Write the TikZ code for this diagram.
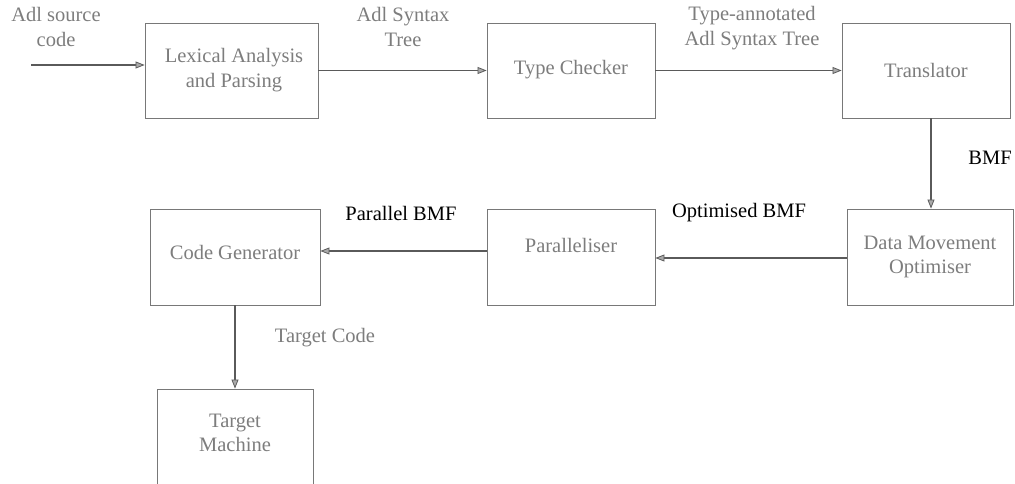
\documentclass[tikz,border=0pt]{standalone}
\usepackage{fontspec}
\setmainfont{Liberation Serif}[BoldFont={Liberation Serif Bold}]
\usetikzlibrary{arrows.meta}
\definecolor{boxgray}{RGB}{120,120,120}
\definecolor{txtgray}{RGB}{125,125,125}
\definecolor{flowgray}{RGB}{90,90,90}
\definecolor{headgray}{RGB}{170,170,170}
\begin{document}
\begin{tikzpicture}[x=1pt,y=-1pt,
  stagebox/.style={draw=boxgray, line width=0.9pt, inner sep=0pt},
  stagetext/.style={text=txtgray, font=\rmfamily\fontsize{20.5}{24.5}\selectfont, align=center, inner sep=0pt},
  graylabel/.style={text=txtgray, font=\rmfamily\fontsize{20.5}{24.5}\selectfont, align=center, inner sep=0pt},
  blacklabel/.style={text=black, font=\rmfamily\fontsize{20.5}{24.5}\selectfont, align=center, inner sep=0pt},
  flow/.style={draw=flowgray, line width=1.5pt,
    -{Triangle[length=9pt,width=7pt,open,fill=headgray,line width=0.8pt]}}]
  \useasboundingbox (0,0) rectangle (1015,483);

  % stage boxes
  \node[stagebox, minimum width=173pt, minimum height=95pt] (lex) at (231.5,70.5) {};
  \node[stagebox, minimum width=168pt, minimum height=95pt] (tc)  at (571,70.5) {};
  \node[stagebox, minimum width=168pt, minimum height=95pt] (tr)  at (926,70.5) {};
  \node[stagebox, minimum width=166pt, minimum height=96pt] (dmo) at (930,257) {};
  \node[stagebox, minimum width=168pt, minimum height=96pt] (par) at (571,257) {};
  \node[stagebox, minimum width=170pt, minimum height=96pt] (cg)  at (235,257) {};
  \node[stagebox, minimum width=156pt, minimum height=120pt] (tm) at (235,449) {};

  % texts inside the boxes
  \node[stagetext] (lext) at (234,70) {Lexical Analysis\\and Parsing};
  \node[stagetext] (tct)  at (571,70) {Type Checker};
  \node[stagetext] (trt)  at (926,70) {Translator};
  \node[stagetext] (dmot) at (930,257) {Data Movement\\Optimiser};
  \node[stagetext] (part) at (571,245) {Paralleliser};
  \node[stagetext] (cgt)  at (235,252) {Code Generator};
  \node[stagetext] (tmt)  at (235,433) {Target\\Machine};

  % connectors
  \coordinate (src) at (31,65);
  \draw[flow] (src) -- (src -| lex.west);
  \draw[flow] (lex.east) -- (tc.west);
  \draw[flow] (tc.east) -- (tr.west);
  \draw[flow] ([xshift=5pt]tr.south) -- ([xshift=5pt]tr.south |- dmo.north);
  \draw[flow] ([yshift=-1pt]dmo.west) -- ([yshift=-1pt]dmo.west -| par.east);
  \draw[flow] ([yshift=6pt]par.west) -- ([yshift=6pt]par.west -| cg.east);
  \draw[flow] (cg.south) -- (tm.north);

  % connector labels
  \node[graylabel] (lsrc) at (56,27) {Adl source\\code};
  \node[graylabel] (last) at (403,27) {Adl Syntax\\Tree};
  \node[graylabel] (ltast) at (752,28) {Type-annotated\\Adl Syntax Tree};
  \node[blacklabel] (lbmf) at (990,158) {BMF};
  \node[blacklabel] (lopt) at (739,213) {Optimised BMF};
  \node[blacklabel] (lpar) at (401,213) {Parallel BMF};
  \node[graylabel] (ltc) at (325,338) {Target Code};
\end{tikzpicture}
\end{document}
